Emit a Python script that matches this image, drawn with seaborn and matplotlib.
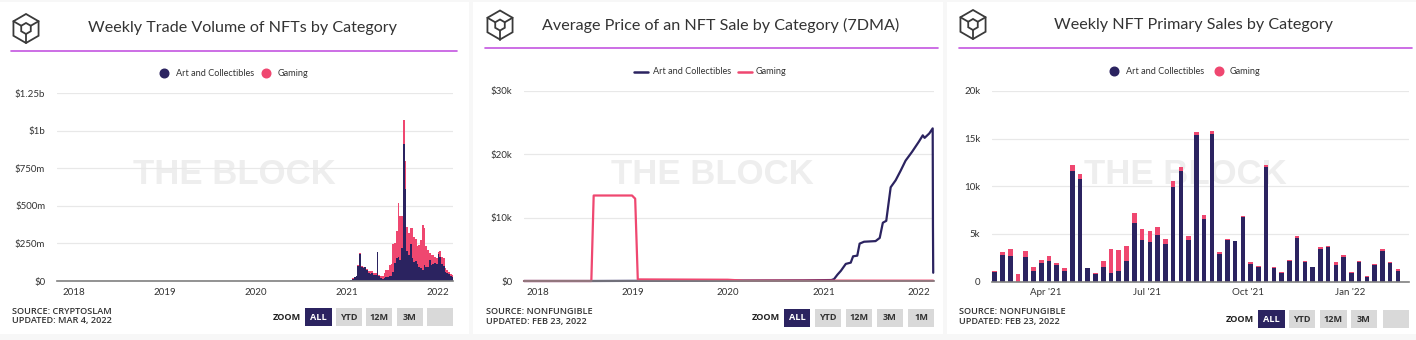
import numpy as np
import pandas as pd
import matplotlib
matplotlib.use("Agg")
import matplotlib.pyplot as plt
import matplotlib.dates as mdates
from matplotlib.patches import Rectangle, Polygon
from matplotlib.lines import Line2D
from matplotlib.ticker import FixedLocator, FixedFormatter
import seaborn as sns

# ---------------------------------------------------------------- data
CATEGORIES = ["Art and Collectibles", "Gaming"]

# Weekly trade volume of NFTs ($m), weeks starting 2021-01-17
volume_week_start = "2021-01-17"
volume_art = [5, 15, 25, 30, 100, 180, 95, 85, 90, 70, 50, 45, 50, 40, 40, 190,
              35, 20, 15, 20, 25, 25, 30, 35, 60, 120, 150, 160, 140, 220, 910,
              610, 200, 170, 245, 150, 125, 130, 110, 90, 85, 75, 105, 95, 95,
              140, 105, 110, 120, 110, 178, 160, 115, 100, 60, 50, 45, 30, 25]
volume_gaming = [1, 2, 3, 3, 4, 4, 5, 6, 6, 10, 17, 20, 18, 15, 10, 6, 8, 10,
                 15, 30, 45, 50, 75, 75, 185, 130, 180, 360, 290, 210, 160, 190,
                 160, 150, 105, 200, 170, 150, 120, 150, 190, 300, 245, 140, 110,
                 45, 70, 65, 40, 40, 17, 40, 45, 50, 25, 20, 15, 15, 15]
volume_ticks = [0, 250, 500, 750, 1000, 1250]
volume_tick_labels = ["$0", "$250m", "$500m", "$750m", "$1b", "$1.25b"]

# Average price of an NFT sale, 7-day moving average ($)
price_art_dates = ["2017-11-10", "2018-07-25", "2020-10-15", "2021-01-31",
                   "2021-02-10", "2021-02-23", "2021-03-08", "2021-03-27",
                   "2021-04-15", "2021-04-24", "2021-05-10", "2021-05-19",
                   "2021-06-05", "2021-07-19", "2021-08-04", "2021-08-16",
                   "2021-08-29", "2021-09-15", "2021-10-04", "2021-10-23",
                   "2021-11-11", "2021-12-06", "2022-01-01", "2022-01-16",
                   "2022-01-23", "2022-02-10", "2022-02-23", "2022-02-24",
                   "2022-02-25"]
price_art = [0, 0, 100, 150, 300, 1000, 1600, 2700, 2900, 3900, 4000, 5900,
             6200, 6300, 6800, 9200, 9500, 14800, 15900, 17400, 19000, 20400,
             22000, 23000, 22600, 23300, 24100, 8700, 1300]
price_gaming_dates = ["2017-11-10", "2018-07-26", "2018-08-04", "2018-12-29",
                      "2019-01-05", "2019-01-10", "2019-01-20", "2019-12-31",
                      "2020-03-01", "2022-02-25"]
price_gaming = [0, 0, 13500, 13500, 13200, 13000, 250, 200, 60, 50]
price_ticks = [0, 10000, 20000, 30000]
price_tick_labels = ["$0", "$10k", "$20k", "$30k"]

# Weekly NFT primary sales (thousands), weeks starting 2021-02-14
sales_week_start = "2021-02-14"
sales_art = [1.0, 2.8, 2.65, 0.0, 2.55, 1.13, 1.95, 2.2, 1.75, 1.15, 11.6, 10.75,
             1.4, 0.8, 1.5, 0.85, 1.13, 2.2, 6.1, 4.35, 4.1, 4.9, 3.9, 9.9, 11.6,
             4.35, 15.4, 6.6, 15.5, 2.9, 4.35, 4.2, 6.8, 1.87, 1.5, 12.05, 1.45,
             0.85, 2.2, 4.55, 2.0, 1.5, 3.4, 3.6, 1.75, 2.55, 0.9, 2.0, 0.5, 1.75,
             3.25, 1.97, 1.15]
sales_gaming = [0.1, 0.3, 0.75, 0.77, 0.7, 0.42, 0.35, 0.45, 0.2, 0.3, 0.6, 0.5,
                0.05, 0.1, 0.6, 2.55, 2.2, 1.5, 1.1, 1.15, 1.2, 0.85, 0.6, 0.6,
                0.4, 0.45, 0.25, 0.35, 0.25, 0.15, 0.15, 0.1, 0.1, 0.18, 0.15,
                0.15, 0.1, 0.1, 0.05, 0.2, 0.2, 0.05, 0.2, 0.1, 0.25, 0.2, 0.1,
                0.1, 0.1, 0.1, 0.2, 0.03, 0.12]
sales_ticks = [0, 5, 10, 15, 20]
sales_tick_labels = ["0", "5k", "10k", "15k", "20k"]

panel_titles = ["Weekly Trade Volume of NFTs by Category",
                "Average Price of an NFT Sale by Category (7DMA)",
                "Weekly NFT Primary Sales by Category"]
sources = [("SOURCE: CRYPTOSLAM", "UPDATED: MAR 4, 2022"),
           ("SOURCE: NONFUNGIBLE", "UPDATED: FEB 23, 2022"),
           ("SOURCE: NONFUNGIBLE", "UPDATED: FEB 23, 2022")]
zoom_buttons = [["ALL", "YTD", "12M", "3M", ""],
                ["ALL", "YTD", "12M", "3M", "1M"],
                ["ALL", "YTD", "12M", "3M", ""]]

# ---------------------------------------------------------------- style
NAVY = "#2b2360"
PINK = "#ef4770"
PURPLE = "#c455e0"
TEXT = "#333333"
GRID = "#e8e8e8"
WATERMARK = "#eeeeee"
FOOT_FONT = ["Open Sans", "DejaVu Sans"]

sns.set_theme(style="white")
plt.rcParams["font.family"] = ["Lato", "DejaVu Sans"]

W, H = 1416, 340
fig = plt.figure(figsize=(W / 100, H / 100), dpi=100)
fig.patch.set_facecolor("#f7f7f7")


def fxy(x, y):
    return x / W, 1 - y / H


def rect(x0, y0, x1, y1):
    return [x0 / W, 1 - y1 / H, (x1 - x0) / W, (y1 - y0) / H]


def box(x0, y0, x1, y1, color, z=-2):
    fig.add_artist(Rectangle((x0 / W, 1 - y1 / H), (x1 - x0) / W, (y1 - y0) / H,
                             transform=fig.transFigure, facecolor=color,
                             edgecolor="none", zorder=z))


def logo(cx, cy, r):
    ang = np.deg2rad([90, 150, 210, 270, 330, 30])
    outer = [(cx + r * np.cos(a), cy - r * np.sin(a)) for a in ang]
    inner = [(cx + 0.38 * r * np.cos(a), cy - 0.38 * r * np.sin(a)) for a in ang]
    kw = dict(transform=fig.transFigure, color="#3a3a3a", lw=1.3)
    for pts in (outer, inner):
        fig.add_artist(Polygon([fxy(*p) for p in pts], closed=True, fill=False,
                               edgecolor="#3a3a3a", lw=1.3,
                               transform=fig.transFigure))
    for i in (1, 5, 3):
        (x0, y0), (x1, y1) = fxy(*inner[i]), fxy(*outer[i])
        fig.add_artist(Line2D([x0, x1], [y0, y1], **kw))


def header(cx, cy, title, tx, ty, lx0, lx1, ly):
    logo(cx, cy, 14.5)
    fig.text(*fxy(tx, ty), title, fontsize=11.6, color=TEXT, ha="center",
             va="center", fontweight="normal")
    fig.add_artist(Line2D([lx0 / W, lx1 / W], [1 - ly / H] * 2,
                          transform=fig.transFigure, color=PURPLE, lw=1.2))


def legend(y, items, kind):
    for (xm, xt, color, label) in items:
        if kind == "dot":
            fig.add_artist(Line2D([xm / W], [1 - y / H], marker="o", markersize=6.2,
                                  color=color, linestyle="none",
                                  transform=fig.transFigure))
        else:
            fig.add_artist(Line2D([(xm - 7) / W, (xm + 7) / W], [1 - y / H] * 2,
                                  color=color, lw=1.8, transform=fig.transFigure))
        fig.text(xt / W, 1 - y / H, label, fontsize=6.6, color=TEXT,
                 va="center", ha="left")


def footer(x_src, y1, y2, lines, x_zoom, y0b, y1b, btns, labels):
    for yy, line in ((y1, lines[0]), (y2, lines[1])):
        fig.text(x_src / W, 1 - yy / H, line, fontsize=6.6, color=TEXT,
                 va="center", family=FOOT_FONT, fontweight="semibold")
    ym = (y0b + y1b) / 2
    fig.text(x_zoom / W, 1 - ym / H, "ZOOM", fontsize=6.6, color="#222222",
             ha="center", va="center", family=FOOT_FONT, fontweight="bold")
    for (bx0, bx1), lab in zip(btns, labels):
        active = lab == "ALL"
        box(bx0, y0b, bx1, y1b, NAVY if active else "#d9d9d9", z=1)
        if lab:
            fig.text((bx0 + bx1) / 2 / W, 1 - ym / H, lab, fontsize=6.6,
                     color="white" if active else "#333333", ha="center",
                     va="center", family=FOOT_FONT, fontweight="bold", zorder=2)


def style_axis(ax, ticks, labels, ymax):
    ax.patch.set_visible(False)
    for s in ("left", "right", "top"):
        ax.spines[s].set_visible(False)
    ax.spines["bottom"].set_color("#808080")
    ax.spines["bottom"].set_linewidth(1.2)
    ax.set_ylim(0, ymax)
    ax.yaxis.set_major_locator(FixedLocator(ticks))
    ax.yaxis.set_major_formatter(FixedFormatter(labels))
    ax.grid(axis="y", color=GRID, lw=0.9)
    ax.grid(axis="x", visible=False)
    ax.set_axisbelow(True)
    ax.tick_params(axis="y", length=0, pad=8.5, labelsize=7, labelcolor=TEXT)
    ax.tick_params(axis="x", length=0, pad=5, labelsize=7, labelcolor=TEXT)
    ax.set_xlabel("")
    ax.set_ylabel("")


# panel backgrounds
box(0, 2, 469, 334, "white")
box(473, 2, 943, 334, "white")
box(947, 2, 1416, 334, "white")

header(26, 28.5, panel_titles[0], 243, 28, 11, 457, 51)
header(500, 25, panel_titles[1], 721, 25, 485, 938, 48)
header(973, 24.5, panel_titles[2], 1194, 25, 959, 1412, 48)

legend(73, [(164, 176, NAVY, CATEGORIES[0]), (266, 278, PINK, CATEGORIES[1])], "dot")
legend(71.5, [(641, 653, NAVY, CATEGORIES[0]), (745, 756, PINK, CATEGORIES[1])], "line")
legend(71, [(1114, 1126, NAVY, CATEGORIES[0]), (1219, 1230, PINK, CATEGORIES[1])], "dot")

# watermarks
for xc in (234, 712, 1185):
    fig.text(*fxy(xc, 174), "THE BLOCK", fontsize=25, color=WATERMARK,
             ha="center", va="center", fontweight="bold",
             family=["Liberation Sans", "DejaVu Sans"], zorder=-1)

year_fmt = mdates.DateFormatter("%Y")
year_loc = mdates.YearLocator()

# ------------------------------------------------ panel 1: stacked weekly bars
ax1 = fig.add_axes(rect(57, 93, 453, 281))
weeks1 = pd.date_range(volume_week_start, periods=len(volume_art), freq="7D")
x1 = mdates.date2num(weeks1)
total1 = np.array(volume_art) + np.array(volume_gaming)
sns.barplot(x=x1, y=total1, native_scale=True, color=PINK, saturation=1,
            width=1.0, linewidth=0, errorbar=None, ax=ax1)
sns.barplot(x=x1, y=volume_art, native_scale=True, color=NAVY, saturation=1,
            width=1.0, linewidth=0, errorbar=None, ax=ax1)
style_axis(ax1, volume_ticks, volume_tick_labels, 1250)
ax1.set_xlim(mdates.date2num(pd.Timestamp("2017-10-24")),
             mdates.date2num(pd.Timestamp("2022-03-01")))
ax1.xaxis.set_major_locator(year_loc)
ax1.xaxis.set_major_formatter(year_fmt)

# ------------------------------------------------ panel 2: price lines
ax2 = fig.add_axes(rect(524, 91, 934, 281))
sns.lineplot(x=pd.to_datetime(price_art_dates), y=price_art, color=NAVY,
             lw=1.6, estimator=None, ax=ax2)
sns.lineplot(x=pd.to_datetime(price_gaming_dates), y=price_gaming, color=PINK,
             lw=1.6, estimator=None, ax=ax2)
for ln in ax2.lines:
    ln.set_clip_on(False)
style_axis(ax2, price_ticks, price_tick_labels, 30000)
ax2.set_xlim(pd.Timestamp("2017-11-10"), pd.Timestamp("2022-02-28"))
ax2.xaxis.set_major_locator(year_loc)
ax2.xaxis.set_major_formatter(year_fmt)

# ------------------------------------------------ panel 3: stacked weekly bars
ax3 = fig.add_axes(rect(992, 91, 1409, 281.5))
weeks3 = pd.date_range(sales_week_start, periods=len(sales_art), freq="7D")
x3 = mdates.date2num(weeks3)
total3 = np.array(sales_art) + np.array(sales_gaming)
sns.barplot(x=x3, y=total3, native_scale=True, color=PINK, saturation=1,
            width=0.6, linewidth=0, errorbar=None, ax=ax3)
sns.barplot(x=x3, y=sales_art, native_scale=True, color=NAVY, saturation=1,
            width=0.6, linewidth=0, errorbar=None, ax=ax3)
style_axis(ax3, sales_ticks, sales_tick_labels, 20)
ax3.set_xlim(mdates.date2num(pd.Timestamp("2021-02-11 12:00")),
             mdates.date2num(pd.Timestamp("2022-02-23")))
ax3.xaxis.set_major_locator(mdates.MonthLocator(bymonth=[1, 4, 7, 10]))
ax3.xaxis.set_major_formatter(mdates.DateFormatter("%b '%y"))

# footers
footer(12, 312, 321, sources[0], 287, 308, 326,
       [(305, 332), (336, 362), (366, 392), (397, 423), (427, 453)], zoom_buttons[0])
footer(486, 312, 321.5, sources[1], 766, 309, 327,
       [(784, 810), (815, 841), (846, 872), (877, 903), (908, 934)], zoom_buttons[1])
footer(959, 312, 321.5, sources[2], 1240, 310, 328,
       [(1258, 1285), (1289, 1315), (1320, 1347), (1351, 1377), (1383, 1409)],
       zoom_buttons[2])

fig.savefig("out.png", dpi=100, facecolor=fig.get_facecolor())
